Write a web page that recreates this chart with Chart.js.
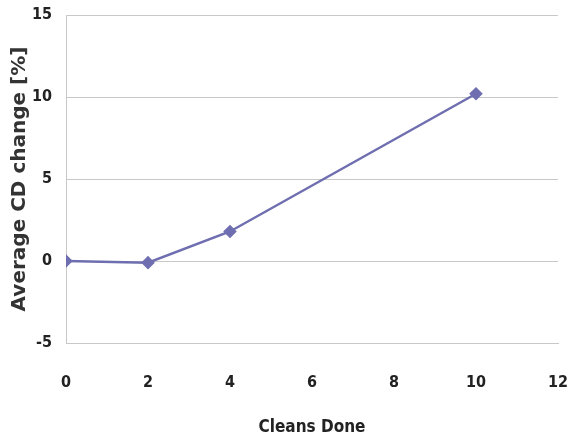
<!DOCTYPE html>
<html>
<head>
<meta charset="utf-8">
<script src="https://cdn.jsdelivr.net/npm/chart.js@4/dist/chart.umd.min.js"></script>
<style>
  html, body { margin: 0; padding: 0; background: #fff; }
  #wrap { width: 569px; height: 438px; }
</style>
</head>
<body>
<div id="wrap"><canvas id="cdChart" width="569" height="438"></canvas></div>
<script>
const cleansDone = [0, 2, 4, 10];
const cdChange = [0, -0.1, 1.8, 10.2];
const xTicks = [0, 2, 4, 6, 8, 10, 12];
const yTicks = [-5, 0, 5, 10, 15];

const narrow = "'Liberation Sans Narrow', 'DejaVu Sans Condensed', sans-serif";
const lineColor = "#6e6eb0";

const points = cleansDone.map((x, i) => ({ x: x, y: cdChange[i] }));

new Chart(document.getElementById("cdChart"), {
  type: "scatter",
  data: {
    datasets: [{
      data: points,
      showLine: true,
      borderColor: lineColor,
      backgroundColor: lineColor,
      borderWidth: 2.5,
      pointStyle: "rectRot",
      pointRadius: 5,
      pointHoverRadius: 5
    }]
  },
  options: {
    responsive: false,
    animation: false,
    layout: { padding: { top: 15, right: 11, left: 0, bottom: 0 } },
    plugins: { legend: { display: false }, tooltip: { enabled: false } },
    scales: {
      x: {
        type: "linear",
        min: 0, max: 12,
        afterBuildTicks: s => { s.ticks = xTicks.map(v => ({ value: v })); },
        afterFit: s => { s.height = 95; s.paddingLeft = 0; s.paddingRight = 0; },
        grid: { display: false, drawTicks: false },
        border: { color: "#c8c8c8", width: 1 },
        ticks: { color: "#222", padding: 30, maxRotation: 0, font: { family: narrow, size: 16, weight: "bold" } },
        title: {
          display: true, text: "Cleans Done", color: "#222",
          font: { family: narrow, size: 17, weight: "bold" },
          padding: { top: 10, bottom: 0 }
        }
      },
      y: {
        min: -5, max: 15,
        afterBuildTicks: s => { s.ticks = yTicks.map(v => ({ value: v })); },
        afterFit: s => { s.width = 66; s.paddingTop = 0; s.paddingBottom = 0; },
        grid: { color: "#c8c8c8", drawTicks: false },
        border: { color: "#c8c8c8", width: 1 },
        ticks: { color: "#222", padding: 14, font: { family: narrow, size: 16, weight: "bold" } },
        title: {
          display: true, text: "Average CD change [%]", color: "#333",
          font: { family: "'DejaVu Sans', sans-serif", size: 20, weight: "bold" },
          padding: { top: 8, bottom: 2 }
        }
      }
    }
  }
});
</script>
</body>
</html>
